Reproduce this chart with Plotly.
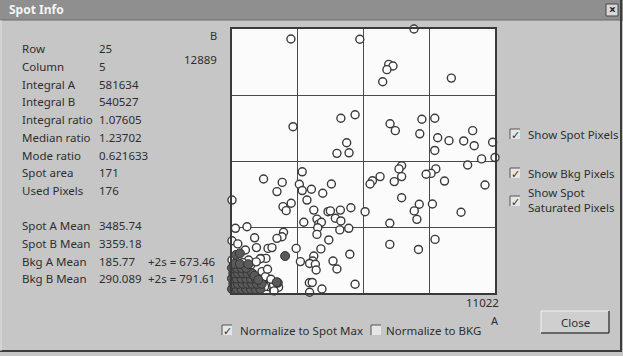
import plotly.graph_objects as go

# ---------------- data (normalized to spot max) ----------------
bkg_a = [0.224,0.486,0.692,0.596,0.612,0.589,0.573,0.834,
         0.232,0.414,0.468,0.436,0.399,0.445,0.601,0.621,0.722,0.714,0.771,0.782,0.771,0.825,0.881,0.915,0.921,0.991,0.949,1.0,
         0.896,0.645,0.635,0.645,0.563,0.534,0.525,0.617,0.775,0.757,0.738,0.808,0.962,0.645,0.712,0.693,0.703,0.762,0.871,0.506,0.600,0.600,0.709,0.772,0.468,
         0.267,0.120,0.191,0.171,0.0,0.256,0.267,0.302,0.378,0.345,0.285,0.194,0.206,0.225,0.311,0.365,0.374,0.412,0.452,0.273,0.323,0.330,0.340,0.393,0.414,0.410,0.444,0.326,0.323,0.368,0.338,0.448,0.384,0.399,0.311,0.307,0.295,0.317,0.320,0.260,0.244,0.294,0.295,0.342,0.305,
         0.013,0.057,0.196,0.190,0.171,0.086,0.0,0.022,0.093,0.137,0.152,0.051,0.110,0.129,0.071,0.114,0.127,0.146,0.139,0.158,0.177,0.124,0.063,0.041,0.0,
         0.108,0.092,0.158,0.148,0.135,0.160]
bkg_b = [0.962,0.961,1.0,0.866,0.860,0.846,0.800,0.814,
         0.630,0.662,0.675,0.569,0.529,0.531,0.641,0.615,0.658,0.603,0.662,0.588,0.540,0.577,0.576,0.615,0.558,0.571,0.508,0.513,
         0.485,0.482,0.470,0.441,0.441,0.425,0.413,0.422,0.470,0.453,0.450,0.424,0.409,0.361,0.336,0.311,0.279,0.337,0.306,0.308,0.264,0.184,0.165,0.203,0.033,
         0.459,0.432,0.419,0.384,0.352,0.412,0.388,0.393,0.413,0.378,0.352,0.327,0.312,0.340,0.314,0.308,0.311,0.314,0.323,0.268,0.280,0.261,0.268,0.283,0.273,0.239,0.245,0.247,0.222,0.201,0.167,0.147,0.121,0.091,0.140,0.121,0.112,0.109,0.087,0.119,0.169,0.039,0.003,0.015,0.040,
         0.245,0.251,0.230,0.213,0.207,0.209,0.198,0.186,0.172,0.169,0.172,0.163,0.131,0.131,0.106,0.081,0.062,0.043,0.024,0.011,0.022,0.024,0.125,0.115,0.125,
         0.130,0.118,0.030,0.052,0.090,0.008]

spot_a = [0.0,0.018,0.036,0.054,0.072,0.090,0.108,
          0.005,0.023,0.041,0.059,0.077,0.095,0.113,
          0.0,0.018,0.036,0.054,0.072,0.090,
          0.005,0.023,0.041,0.059,0.077,
          0.0,0.018,0.036,0.054,
          0.008,0.030,0.085,0.100,
          0.202,0.174,0.015,0.030,0.062,0.170]
spot_b = [0.015,0.015,0.015,0.015,0.015,0.015,0.015,
          0.035,0.035,0.035,0.035,0.035,0.035,0.035,
          0.055,0.055,0.055,0.055,0.055,0.055,
          0.075,0.075,0.075,0.075,0.075,
          0.095,0.095,0.095,0.095,
          0.110,0.110,0.065,0.050,
          0.140,0.039,0.144,0.150,0.109,0.041]

info_labels = ["Row","Column","Integral A","Integral B","Integral ratio","Median ratio",
               "Mode ratio","Spot area","Used Pixels"]
info_values = ["25","5","581634","540527","1.07605","1.23702","0.621633","171","176"]
mean_labels = ["Spot A Mean","Spot B Mean","Bkg A Mean","Bkg B Mean"]
mean_values = ["3485.74","3359.18","185.77","290.089"]
mean_extra = ["","","+2s = 673.46","+2s = 791.61"]
max_a_label = "11022"
max_b_label = "12889"
right_checks = ["Show Spot Pixels","Show Bkg Pixels","Show Spot<br>Saturated Pixels"]

# ---------------- layout helpers (pixel -> paper) ----------------
W, H = 623, 356
L, R, T, B = 232, 495, 29, 293
def X(px): return (px - L) / (R - L)
def Y(py): return (B - py) / (B - T)

FONT = "Noto Sans"
TXT = "#2e2e2e"

fig = go.Figure()
fig.add_trace(go.Scatter(x=bkg_a, y=bkg_b, mode="markers", cliponaxis=False,
                         marker=dict(symbol="circle", size=8, color="white",
                                     line=dict(color="#3a3a3a", width=1.4)),
                         showlegend=False, hoverinfo="skip"))
fig.add_trace(go.Scatter(x=spot_a, y=spot_b, mode="markers", cliponaxis=False,
                         marker=dict(symbol="circle", size=9, color="#5a5a5a",
                                     line=dict(color="#333333", width=1)),
                         showlegend=False, hoverinfo="skip"))

shapes = []
ann = []
def rect(x0, y0, x1, y1, fill, line=None, lw=1, layer="below"):
    shapes.append(dict(type="rect", xref="paper", yref="paper", x0=X(x0), x1=X(x1),
                       y0=Y(y1), y1=Y(y0), fillcolor=fill, layer=layer,
                       line=dict(color=line or fill, width=lw if line else 0)))
def line(x0, y0, x1, y1, color, lw=1, layer="above"):
    shapes.append(dict(type="line", xref="paper", yref="paper", x0=X(x0), x1=X(x1),
                       y0=Y(y0), y1=Y(y1), layer=layer, line=dict(color=color, width=lw)))
def text(px, py, s, size=11.5, anchor="left", color=TXT, bold=False):
    ann.append(dict(xref="paper", yref="paper", x=X(px), y=Y(py), text=("<b>%s</b>" % s) if bold else s,
                    showarrow=False, xanchor=anchor, yanchor="middle", align="left",
                    font=dict(family=FONT, size=size, color=color)))

# dialog title bar & borders
rect(0, 0, W, 20, "#8f8f8f")
line(0, 20, W, 20, "#6a6a6a", 1, "below")
text(7, 10, "Spot Info", 12, color="#f4f4f4", bold=True)
rect(606, 4, 618, 16, "#d8d8d8", "#444444", 1, "above")
text(612, 9.5, "×", 12, anchor="center", color="#222222", bold=True)
line(621, 0, 621, 352, "#3c3c3c", 2, "below")
line(0, 351, 622, 351, "#3c3c3c", 2, "below")
line(1, 20, 1, 351, "#e0e0e0", 1, "below")

# plot area white + grid frame
rect(L, T, R, B, "#fbfbfb", layer="below")

# left info
ys = [48, 66, 84, 101.5, 119, 137, 155, 172.5, 190.5]
for lab, val, yy in zip(info_labels, info_values, ys):
    text(20, yy, lab)
    text(97, yy, val)
ys2 = [225.5, 243.5, 261, 278.5]
for lab, val, ex, yy in zip(mean_labels, mean_values, mean_extra, ys2):
    text(20, yy, lab)
    text(97, yy, val)
    if ex:
        text(146, yy, ex)

# axis labels
text(213, 36, "B", 11, anchor="center")
text(219, 59, max_b_label, 11.5, anchor="right")
text(501, 302, max_a_label, 11.5, anchor="right")
text(495, 320, "A", 11, anchor="center")

# checkboxes
def checkbox(x, y, checked):
    rect(x, y - 5, x + 10, y + 5, "#e6e6e6", layer="above")
    line(x, y - 5, x + 10, y - 5, "#555555", 1)
    line(x, y - 5, x, y + 5, "#555555", 1)
    if checked:
        text(x + 5.5, y + 0.5, "✓", 11, anchor="center", color="#333333")

for s, yy, by in zip(right_checks, [134, 173, 200], [134, 173, 201]):
    checkbox(510, by, True)
    text(526, yy, s)

checkbox(222, 330, True)
text(238, 330, "Normalize to Spot Max")
checkbox(371, 330, False)
text(384, 330, "Normalize to BKG")

# close button
rect(541, 311, 609, 333, "#cfcfcf", layer="below")
line(541, 311, 609, 311, "#f0f0f0", 1)
line(541, 311, 541, 333, "#f0f0f0", 1)
line(609, 311, 609, 333, "#444444", 1.5)
line(541, 333, 609, 333, "#444444", 1.5)
text(575, 322.5, "Close", 11.5, anchor="center")

fig.update_layout(
    width=W, height=H, autosize=False,
    margin=dict(l=L, r=W - R, t=T, b=H - B, pad=0),
    paper_bgcolor="#c6c6c6", plot_bgcolor="#fbfbfb",
    shapes=shapes, annotations=ann,
    xaxis=dict(range=[0, 1], tickvals=[0.25, 0.5, 0.75], showticklabels=False,
               showgrid=True, gridcolor="#4a4a4a", gridwidth=1.3, zeroline=False,
               showline=True, linecolor="#3a3a3a", linewidth=1.5, mirror=True, ticks="",
               fixedrange=True),
    yaxis=dict(range=[0, 1], tickvals=[0.25, 0.5, 0.75], showticklabels=False,
               showgrid=True, gridcolor="#4a4a4a", gridwidth=1.3, zeroline=False,
               showline=True, linecolor="#3a3a3a", linewidth=1.5, mirror=True, ticks="",
               fixedrange=True),
    font=dict(family=FONT, color=TXT),
)

fig.write_html("out.html")
